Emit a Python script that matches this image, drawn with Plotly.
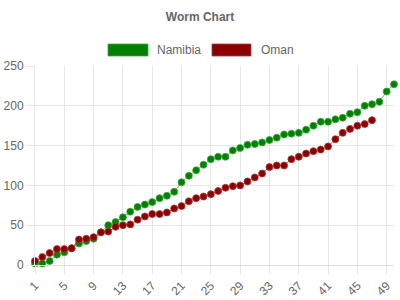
import plotly.graph_objects as go

overs_nam = list(range(1, 51))
namibia = [2, 2, 5, 13, 16, 21, 27, 30, 33, 41, 50, 54, 60, 67, 73, 76, 79, 84, 87, 92,
           104, 112, 119, 126, 133, 136, 136, 144, 147, 151, 152, 154, 157, 160, 164,
           165, 166, 170, 175, 180, 180, 183, 185, 190, 192, 200, 202, 205, 218, 227]
overs_oman = list(range(1, 48))
oman = [5, 10, 15, 20, 20, 21, 32, 33, 35, 41, 42, 48, 50, 51, 57, 61, 64, 64, 66, 71,
        74, 80, 84, 86, 89, 93, 97, 99, 100, 105, 110, 115, 123, 125, 125, 133, 136,
        140, 143, 145, 149, 158, 166, 171, 175, 177, 182]
x_ticks = list(range(1, 51, 4))
y_ticks = [0, 50, 100, 150, 200, 250]
series_names = ["Namibia", "Oman"]
colors = ["#008000", "#8b0000"]
borders = ["rgba(60,170,60,0.8)", "rgba(170,60,60,0.8)"]

FONT = "Liberation Sans, Arial, Helvetica, sans-serif"
GRAY = "#666666"

fig = go.Figure()
for xs, ys, name, c, b in [(overs_nam, namibia, series_names[0], colors[0], borders[0]),
                           (overs_oman, oman, series_names[1], colors[1], borders[1])]:
    fig.add_trace(go.Scatter(
        x=xs, y=ys, name=name, mode="lines+markers",
        line=dict(color=b, width=1),
        marker=dict(color=c, size=7, line=dict(color=b, width=1)),
        showlegend=False, cliponaxis=False))

L, R, T, B = 35, 6, 66, 35
W, H = 400, 300
pw, ph = W - L - R, H - T - B

def px(x):
    return (x - L) / pw

def py(y):
    return (H - B - y) / ph

shapes = []
annotations = []
legend_items = [(108, 148, 155, series_names[0], colors[0], borders[0]),
                (212, 251, 259, series_names[1], colors[1], borders[1])]
for x0, x1, tx, name, c, b in legend_items:
    shapes.append(dict(type="rect", xref="paper", yref="paper",
                       x0=px(x0), x1=px(x1), y0=py(56), y1=py(44),
                       fillcolor=c, line=dict(color=b, width=1)))
    annotations.append(dict(text=name, xref="paper", yref="paper",
                            x=px(tx), y=py(50), xanchor="left", yanchor="middle",
                            showarrow=False, font=dict(family=FONT, size=12, color=GRAY)))

fig.update_layout(
    width=W, height=H,
    margin=dict(l=L, r=R, t=T, b=B, autoexpand=False),
    paper_bgcolor="white", plot_bgcolor="white",
    title=dict(text="<b>Worm Chart</b>", x=0.5, xanchor="center", y=1 - 17 / H,
               yanchor="middle", font=dict(family=FONT, size=12, color=GRAY)),
    shapes=shapes, annotations=annotations,
    xaxis=dict(range=[1, 50], tickvals=x_ticks, ticktext=[str(v) for v in x_ticks],
               tickangle=-45, showgrid=True, gridcolor="#e6e6e6", gridwidth=1,
               ticks="outside", ticklen=8, tickcolor="#e6e6e6", automargin=False,
               showline=True, linecolor="#dddddd", zeroline=False,
               tickfont=dict(family=FONT, size=12, color=GRAY)),
    yaxis=dict(range=[0, 250], tickvals=y_ticks, showgrid=True, gridcolor="#e6e6e6",
               gridwidth=1, ticks="outside", ticklen=8, tickcolor="#e6e6e6",
               automargin=False,
               showline=True, linecolor="#e6e6e6", zeroline=False,
               tickfont=dict(family=FONT, size=12, color=GRAY)),
    showlegend=False,
)

fig.write_html("out.html")
